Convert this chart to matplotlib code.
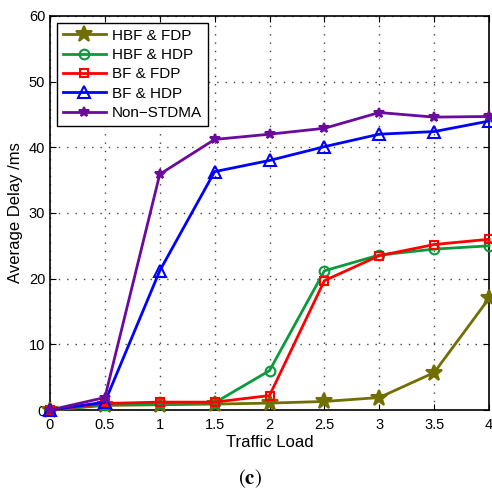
import matplotlib
matplotlib.use('Agg')
import matplotlib.pyplot as plt
import numpy as np

#------------------------datos------------------------------------------
carga = [0, 0.5, 1, 1.5, 2, 2.5, 3, 3.5, 4]
hbf_fdp = [0, 0.7, 0.8, 0.9, 1.05, 1.3, 1.9, 5.7, 17.0]
hbf_hdp = [0, 0.8, 1.0, 1.1, 6.0, 21.2, 23.6, 24.5, 25.0]
bf_fdp = [0, 1.0, 1.2, 1.2, 2.2, 19.7, 23.5, 25.2, 26.0]
bf_hdp = [0, 1.2, 21.2, 36.3, 38.0, 40.1, 42.0, 42.4, 44.0]
non_stdma = [0, 1.9, 35.9, 41.2, 42.0, 42.9, 45.3, 44.6, 44.7]
nombres = ['HBF & FDP', 'HBF & HDP', 'BF & FDP', 'BF & HDP', 'Non\u2212STDMA']
xticks = [0, 0.5, 1, 1.5, 2, 2.5, 3, 3.5, 4]
xticklabels = ['0', '0.5', '1', '1.5', '2', '2.5', '3', '3.5', '4']
yticks = [0, 10, 20, 30, 40, 50, 60]

#-----------------------------Set matplotlib----------------
plt.rcParams['font.family'] = 'Liberation Sans'
plt.rcParams['font.size'] = 10

fig = plt.figure(figsize=(4.92, 4.95), dpi=100)
ax = fig.add_axes([0.1016, 0.1717, 0.8924, 0.796])

series = [hbf_fdp, hbf_hdp, bf_fdp, bf_hdp, non_stdma]
colores = ['#716f00', '#0a9a3c', '#ff0000', '#0000ff', '#6a0a9e']
marcas = ['*', 'o', 's', '^', '*']
tam = [12, 7, 6, 8, 7]
for y, c, m, s, n in zip(series, colores, marcas, tam, nombres):
    ax.plot(carga, y, color=c, marker=m, markersize=s, markerfacecolor='none' if m in ('o', 's', '^') else c,
            markeredgewidth=1.5, linewidth=2, label=n, clip_on=False, zorder=3)

ax.set_xlim(0, 4)
ax.set_ylim(0, 60)
ax.set_xticks(xticks)
ax.set_xticklabels(xticklabels)
ax.set_yticks(yticks)
ax.tick_params(direction='in', top=True, right=True, labelsize=10.5, length=4)
ax.tick_params(axis='x', pad=6)
ax.grid(True, linestyle=(0, (1, 5)), color='#444444', linewidth=1.0)
for sp in ax.spines.values():
    sp.set_linewidth(1.2)
ax.set_xlabel('Traffic Load', fontsize=12, labelpad=2)
ax.set_ylabel('Average Delay /ms', fontsize=12, labelpad=4)
leg = ax.legend(loc='upper left', bbox_to_anchor=(0.005, 0.995), fontsize=11, fancybox=False,
                edgecolor='black', framealpha=1, handlelength=2.8, borderpad=0.4,
                labelspacing=0.35, handletextpad=0.4, borderaxespad=0.3)
leg.get_frame().set_linewidth(1.0)
fig.text(0.508, 0.034, r'$(\mathbf{c})$', fontsize=15, math_fontfamily='stix', ha='center', va='center')

plt.savefig('out.png', dpi=100)
